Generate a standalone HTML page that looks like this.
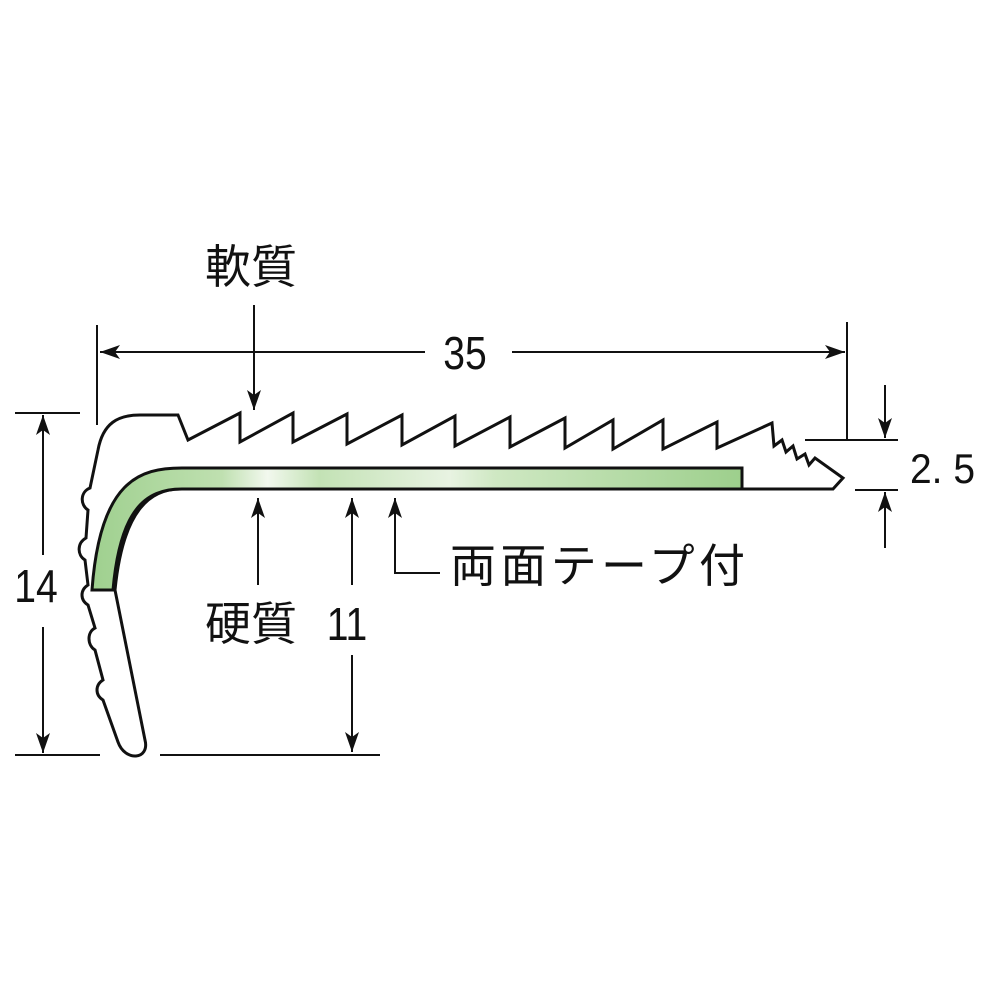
<!DOCTYPE html>
<html><head><meta charset="utf-8"><style>
html,body{margin:0;padding:0;background:#fff;}
svg{display:block;}
text{font-family:"Liberation Sans","Noto Sans CJK JP",sans-serif;fill:#111;}
</style></head><body>
<svg width="1000" height="1000" viewBox="0 0 1000 1000" xmlns="http://www.w3.org/2000/svg">
<defs>
<linearGradient id="g" x1="0" x2="1" y1="0" y2="0">
<stop offset="0" stop-color="#9fd08f"/>
<stop offset="0.2" stop-color="#bfe0b0"/>
<stop offset="0.27" stop-color="#f2f8ee"/>
<stop offset="0.35" stop-color="#c3e2b5"/>
<stop offset="0.55" stop-color="#e8f3e2"/>
<stop offset="0.62" stop-color="#cfe8c3"/>
<stop offset="1" stop-color="#9dcf8c"/>
</linearGradient>
<marker id="b" viewBox="0 0 20 14" refX="20" refY="7" markerWidth="20" markerHeight="14" orient="auto-start-reverse" markerUnits="userSpaceOnUse"><path d="M0,0 L20,7 L0,14 L5,7 z" fill="#111"/></marker>
</defs>
<g stroke="#111" stroke-width="2.2" fill="none">
<path fill="#fff" stroke-width="3" stroke-linejoin="miter" d="M178,415 L188,440 L240,413 L240,442 L293,413 L293,442 L347,414 L347,444 L402,415 L402,445 L455,416 L455,446 L510,417 L510,447 L565,418 L565,448 L613,420 L613,449 L663,420 L663,449 L717,422 L717,448 L772,423 L774,446 L782,440 L786,452 L793,446 L797,459 L805,454 L809,465 L815,458 L843,478 L833,489 L180,489 C150,489 123,510 115,590 L145,740 C150,760 125,762 118,742 L103,700 C95,695 95,685 103,680 L95,650 C87,645 87,632 95,628 L88,605 C80,600 80,590 88,585 L85,560 C77,555 77,543 86,538 L88,510 C80,505 80,492 90,488 L98,450 C103,423 118,415 140,415 Z"/>
<path fill="url(#g)" stroke-width="3" d="M742,468 L182,468 C140,468 100,480 92,590 L113,590 C120,510 145,489 182,489 L742,489 Z"/>
</g>
<g stroke="#111" stroke-width="2" fill="none">
<line x1="97" y1="325" x2="97" y2="425"/>
<line x1="847" y1="322" x2="847" y2="440"/>
<line x1="100" y1="352" x2="425" y2="352" marker-start="url(#b)"/>
<line x1="512" y1="352" x2="845" y2="352" marker-end="url(#b)"/>
<line x1="254" y1="305" x2="254" y2="410" marker-end="url(#b)"/>
<line x1="15" y1="413" x2="80" y2="413"/>
<line x1="15" y1="755" x2="100" y2="755"/>
<line x1="43" y1="555" x2="43" y2="415" marker-end="url(#b)"/>
<line x1="43" y1="627" x2="43" y2="753" marker-end="url(#b)"/>
<line x1="160" y1="755" x2="380" y2="755"/>
<line x1="352" y1="585" x2="352" y2="498" marker-end="url(#b)"/>
<line x1="352" y1="655" x2="352" y2="752" marker-end="url(#b)"/>
<line x1="258" y1="585" x2="258" y2="498" marker-end="url(#b)"/>
<polyline points="440,573 395,573 395,498" marker-end="url(#b)"/>
<line x1="805" y1="440" x2="898" y2="440"/>
<line x1="855" y1="490" x2="898" y2="490"/>
<line x1="885" y1="385" x2="885" y2="438" marker-end="url(#b)"/>
<line x1="885" y1="548" x2="885" y2="492" marker-end="url(#b)"/>
</g>
<text x="205" y="283" font-size="46">軟質</text>
<text x="465" y="369" font-size="46" text-anchor="middle" transform="translate(465,0) scale(0.85,1) translate(-465,0)">35</text>
<text x="36" y="602" font-size="46" text-anchor="middle" transform="translate(36,0) scale(0.85,1) translate(-36,0)">14</text>
<text x="205" y="640" font-size="46">硬質</text>
<text x="347" y="640" font-size="46" text-anchor="middle" transform="translate(347,0) scale(0.85,1) translate(-347,0)">11</text>
<text x="450" y="582" font-size="46" textLength="295">両面テープ付</text>
<text x="910" y="483" font-size="42" textLength="65" lengthAdjust="spacingAndGlyphs">2. 5</text>
</svg>
</body></html>
